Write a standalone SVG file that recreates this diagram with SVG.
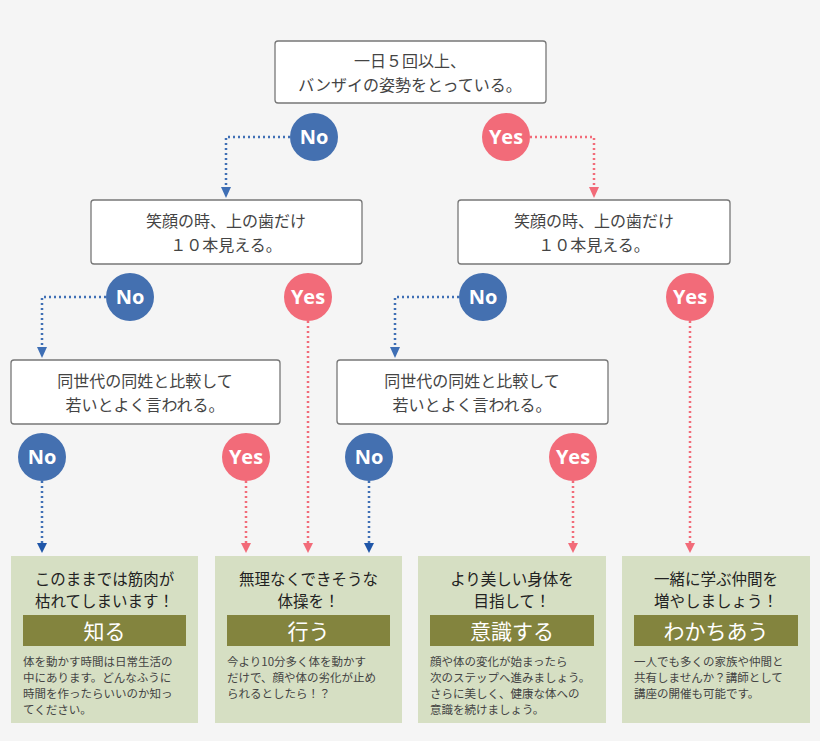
<svg xmlns="http://www.w3.org/2000/svg" width="820" height="741" viewBox="0 0 820 741">
<defs>
<style>
.q{fill:#fff;stroke:#777;stroke-width:1.3}
.qt{font-family:"Liberation Serif","Noto Sans CJK JP",serif;font-size:16px;fill:#444;text-anchor:middle}
.cn{fill:#4470b0}.cy{fill:#f26b79}
.ct{font-family:"Open Sans","Liberation Sans",sans-serif;font-weight:bold;font-size:20px;fill:#fff;text-anchor:middle}
.lb{fill:none;stroke:#3f6fb5;stroke-width:2.5;stroke-dasharray:2 3}
.lp{fill:none;stroke:#f26b79;stroke-width:2.5;stroke-dasharray:2 3}
.r{fill:#d6dfc3}
.band{fill:#83843e}
.h{font-family:"Noto Sans CJK JP",sans-serif;font-size:15.5px;fill:#222;text-anchor:middle}
.bt{font-family:"Noto Sans CJK JP",serif;font-size:21px;fill:#fff;text-anchor:middle}
.b{font-family:"Noto Sans CJK JP",serif;font-size:11.5px;fill:#444}
</style>
<marker id="ab" viewBox="0 0 10 10" refX="5" refY="10" markerWidth="5" markerHeight="5" orient="auto-start-reverse" markerUnits="userSpaceOnUse"><path d="M0 0L10 0L5 10z" fill="#1f56a8"/></marker>
<marker id="ap" viewBox="0 0 10 10" refX="5" refY="10" markerWidth="5" markerHeight="5" orient="auto-start-reverse" markerUnits="userSpaceOnUse"><path d="M0 0L10 0L5 10z" fill="#f26b79"/></marker>
</defs>
<rect width="820" height="741" fill="#f5f5f5"/>
<g id="connectors">
<path class="lb" d="M290 137H226V188"/><path d="M221 187h10l-5 11z" fill="#3f6fb5"/>
<path class="lp" d="M530 137H594V188"/><path d="M589 187h10l-5 11z" fill="#f26b79"/>
<path class="lb" d="M106 297H42V348"/><path d="M37 347h10l-5 11z" fill="#3f6fb5"/>
<path class="lb" d="M459 297H395V348"/><path d="M390 347h10l-5 11z" fill="#3f6fb5"/>
<path class="lp" d="M308 321V543"/><path d="M303 543h10l-5 10z" fill="#f26b79"/>
<path class="lp" d="M690 321V543"/><path d="M685 543h10l-5 10z" fill="#f26b79"/>
<path class="lb" d="M42 481V543"/><path d="M37 543h10l-5 10z" fill="#1f56a8"/>
<path class="lp" d="M246 481V543"/><path d="M241 543h10l-5 10z" fill="#f26b79"/>
<path class="lb" d="M369 481V543"/><path d="M364 543h10l-5 10z" fill="#1f56a8"/>
<path class="lp" d="M573 481V543"/><path d="M568 543h10l-5 10z" fill="#f26b79"/>
</g>
<g id="q1"><rect class="q" x="275" y="41" width="271" height="62" rx="3"/><text class="qt" x="410" y="67">一日５回以上、</text><text class="qt" x="410" y="91">バンザイの姿勢をとっている。</text></g>
<g id="q2a"><rect class="q" x="91" y="200" width="271" height="64" rx="3"/><text class="qt" x="226" y="227">笑顔の時、上の歯だけ</text><text class="qt" x="226" y="251">１０本見える。</text></g>
<g id="q2b"><rect class="q" x="458" y="200" width="272" height="64" rx="3"/><text class="qt" x="594" y="227">笑顔の時、上の歯だけ</text><text class="qt" x="594" y="251">１０本見える。</text></g>
<g id="q3a"><rect class="q" x="11" y="360" width="269" height="64" rx="3"/><text class="qt" x="145" y="387">同世代の同姓と比較して</text><text class="qt" x="145" y="411">若いとよく言われる。</text></g>
<g id="q3b"><rect class="q" x="337" y="360" width="271" height="64" rx="3"/><text class="qt" x="472" y="387">同世代の同姓と比較して</text><text class="qt" x="472" y="411">若いとよく言われる。</text></g>
<g id="c1n"><circle class="cn" cx="314" cy="137" r="24"/><text class="ct" x="314" y="144">No</text></g>
<g id="c1y"><circle class="cy" cx="506" cy="137" r="24"/><text class="ct" x="506" y="144">Yes</text></g>
<g id="c2n1"><circle class="cn" cx="130" cy="297" r="24"/><text class="ct" x="130" y="304">No</text></g>
<g id="c2y1"><circle class="cy" cx="308" cy="297" r="24"/><text class="ct" x="308" y="304">Yes</text></g>
<g id="c2n2"><circle class="cn" cx="483" cy="297" r="24"/><text class="ct" x="483" y="304">No</text></g>
<g id="c2y2"><circle class="cy" cx="690" cy="297" r="24"/><text class="ct" x="690" y="304">Yes</text></g>
<g id="c3n1"><circle class="cn" cx="42" cy="457" r="24"/><text class="ct" x="42" y="464">No</text></g>
<g id="c3y1"><circle class="cy" cx="246" cy="457" r="24"/><text class="ct" x="246" y="464">Yes</text></g>
<g id="c3n2"><circle class="cn" cx="369" cy="457" r="24"/><text class="ct" x="369" y="464">No</text></g>
<g id="c3y2"><circle class="cy" cx="573" cy="457" r="24"/><text class="ct" x="573" y="464">Yes</text></g>
<g id="r1"><rect class="r" x="11" y="556" width="187" height="167"/><text class="h" x="104.5" y="585">このままでは筋肉が</text><text class="h" x="104.5" y="607">枯れてしまいます！</text><rect class="band" x="23" y="615" width="163" height="31"/><text class="bt" x="104.5" y="639">知る</text>
<text class="b" x="23" y="666">体を動かす時間は日常生活の</text><text class="b" x="23" y="682">中にあります。どんなふうに</text><text class="b" x="23" y="698">時間を作ったらいいのか知っ</text><text class="b" x="23" y="714">てください。</text></g>
<g id="r2"><rect class="r" x="215" y="556" width="187" height="167"/><text class="h" x="308.5" y="585">無理なくできそうな</text><text class="h" x="308.5" y="607">体操を！</text><rect class="band" x="227" y="615" width="163" height="31"/><text class="bt" x="308.5" y="639">行う</text>
<text class="b" x="227" y="666">今より10分多く体を動かす</text><text class="b" x="227" y="682">だけで、顔や体の劣化が止め</text><text class="b" x="227" y="698">られるとしたら！？</text></g>
<g id="r3"><rect class="r" x="418" y="556" width="188" height="167"/><text class="h" x="512" y="585">より美しい身体を</text><text class="h" x="512" y="607">目指して！</text><rect class="band" x="430" y="615" width="164" height="31"/><text class="bt" x="512" y="639">意識する</text>
<text class="b" x="430" y="666">顔や体の変化が始まったら</text><text class="b" x="430" y="682">次のステップへ進みましょう。</text><text class="b" x="430" y="698">さらに美しく、健康な体への</text><text class="b" x="430" y="714">意識を続けましょう。</text></g>
<g id="r4"><rect class="r" x="622" y="556" width="188" height="167"/><text class="h" x="716" y="585">一緒に学ぶ仲間を</text><text class="h" x="716" y="607">増やしましょう！</text><rect class="band" x="634" y="615" width="164" height="31"/><text class="bt" x="716" y="639">わかちあう</text>
<text class="b" x="634" y="666">一人でも多くの家族や仲間と</text><text class="b" x="634" y="682">共有しませんか？講師として</text><text class="b" x="634" y="698">講座の開催も可能です。</text></g>
</svg>
